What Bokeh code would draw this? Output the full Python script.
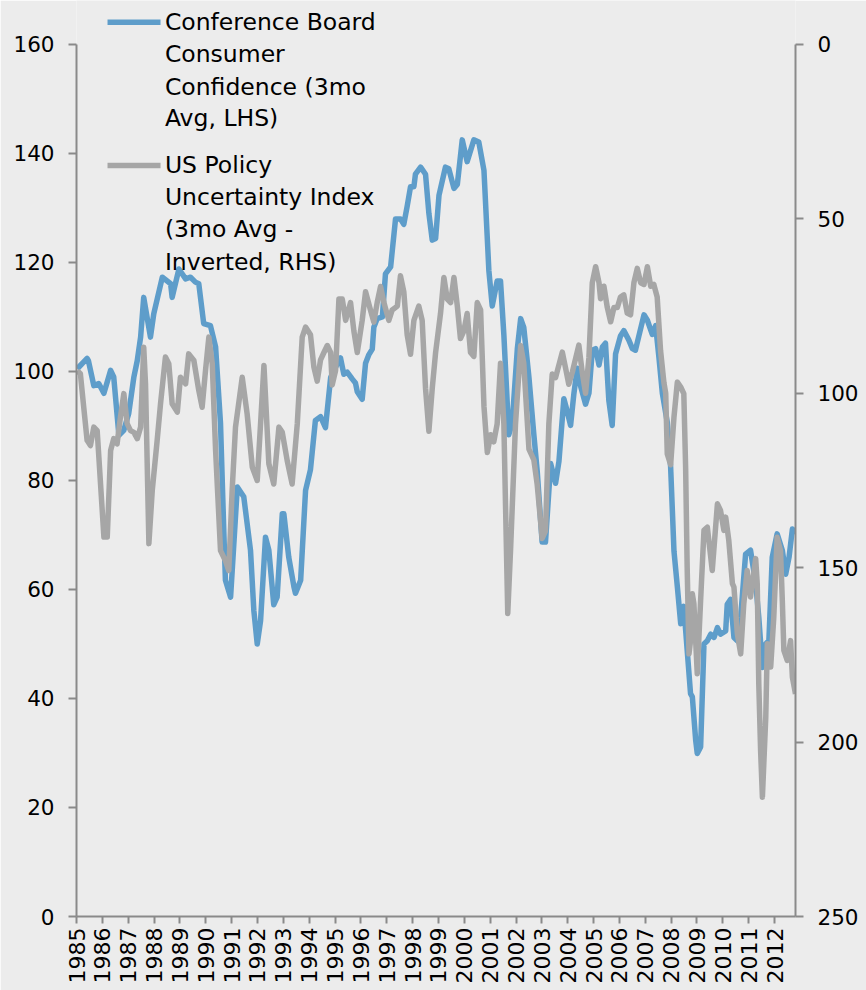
import numpy as np
from bokeh.plotting import figure
from bokeh.models import Range1d, LinearAxis, FixedTicker, Label
from bokeh.embed import file_html
from bokeh.resources import INLINE

# ---- data (decimal years) ----
years_cc = [1985.03, 1985.41, 1985.46, 1985.67, 1985.86, 1986.06, 1986.32, 1986.44, 1986.64, 1986.83,
            1987.02, 1987.22, 1987.35, 1987.48, 1987.60, 1987.86, 1987.99, 1988.32, 1988.64, 1988.70,
            1988.96, 1989.22, 1989.41, 1989.60, 1989.73, 1989.92, 1990.18, 1990.38, 1990.57, 1990.70,
            1990.76, 1990.96, 1991.22, 1991.47, 1991.73, 1991.86, 1991.99, 1992.12, 1992.31, 1992.44,
            1992.63, 1992.76, 1992.96, 1993.02, 1993.21, 1993.41, 1993.47, 1993.67, 1993.86, 1994.05,
            1994.24, 1994.44, 1994.63, 1994.83, 1995.02, 1995.21, 1995.34, 1995.47, 1995.67, 1995.79,
            1995.86, 1996.05, 1996.18, 1996.31, 1996.44, 1996.50, 1996.63, 1996.83, 1996.95, 1997.15,
            1997.34, 1997.53, 1997.66, 1997.79, 1997.92, 1998.05, 1998.11, 1998.31, 1998.50, 1998.63,
            1998.76, 1998.89, 1999.02, 1999.27, 1999.40, 1999.60, 1999.73, 1999.92, 2000.11, 2000.37,
            2000.56, 2000.76, 2000.95, 2001.08, 2001.27, 2001.40, 2001.53, 2001.72, 2001.85, 2002.05,
            2002.18, 2002.30, 2002.50, 2002.69, 2002.82, 2003.01, 2003.14, 2003.34, 2003.53, 2003.66,
            2003.85, 2003.98, 2004.11, 2004.24, 2004.37, 2004.50, 2004.69, 2004.82, 2004.95, 2005.08,
            2005.21, 2005.34, 2005.46, 2005.59, 2005.72, 2005.85, 2006.04, 2006.17, 2006.36, 2006.50,
            2006.62, 2006.75, 2006.95, 2007.08, 2007.27, 2007.40, 2007.53, 2007.66, 2007.85, 2007.98,
            2008.11, 2008.24, 2008.37, 2008.49, 2008.62, 2008.75, 2008.82, 2008.95, 2009.01, 2009.14,
            2009.27, 2009.40, 2009.53, 2009.66, 2009.79, 2009.91, 2010.11, 2010.17, 2010.30, 2010.43,
            2010.56, 2010.69, 2010.88, 2011.07, 2011.27, 2011.39, 2011.53, 2011.66, 2011.78, 2011.91,
            2012.10, 2012.30, 2012.43, 2012.56, 2012.69, 2012.81]
conf_board = [100.5, 102.4, 102.0, 97.4, 97.8, 96.0, 100.2, 99.0, 88.3, 89.2,
              92.3, 99.0, 102.0, 106.3, 113.6, 106.3, 110.6, 117.3, 116.1, 113.6,
              118.8, 117.0, 117.3, 116.4, 116.1, 108.8, 108.4, 104.5, 90.5, 70.3,
              61.7, 58.6, 78.8, 77.0, 67.2, 56.1, 50.0, 54.3, 69.6, 67.2,
              57.2, 58.6, 73.9, 73.9, 65.9, 60.5, 59.3, 61.7, 78.2, 82.0,
              91.0, 91.7, 89.7, 98.9, 100.8, 102.5, 99.5, 99.9, 98.6, 97.9,
              96.3, 94.9, 101.5, 103.1, 104.1, 108.1, 109.7, 110.0, 117.9, 119.2,
              128.0, 128.0, 127.0, 130.3, 133.9, 133.9, 136.2, 137.5, 136.2, 129.0,
              124.1, 124.4, 132.3, 137.5, 137.2, 133.6, 134.3, 142.5, 138.5, 142.5,
              142.1, 136.9, 118.5, 112.0, 116.6, 116.6, 106.7, 88.4, 90.4, 104.1,
              109.7, 108.1, 98.9, 88.4, 81.7, 68.7, 68.7, 83.1, 79.5, 83.5,
              95.0, 92.7, 90.1, 96.0, 100.6, 97.3, 94.0, 96.0, 103.9, 104.2,
              101.2, 104.5, 105.2, 94.7, 90.1, 103.2, 106.5, 107.5, 105.8, 104.2,
              103.9, 106.5, 110.4, 109.4, 106.8, 108.4, 102.5, 96.0, 90.7, 82.5,
              67.0, 60.5, 53.7, 56.9, 48.9, 40.9, 40.3, 32.3, 29.9, 31.1,
              50.0, 50.6, 51.8, 51.2, 53.0, 51.8, 52.4, 57.3, 58.2, 51.2,
              50.6, 54.9, 66.5, 67.2, 61.2, 54.9, 45.7, 50.0, 50.6, 65.9,
              70.2, 67.2, 62.8, 65.9, 71.1, 70.2]

years_pu = [1985.03, 1985.15, 1985.28, 1985.41, 1985.54, 1985.67, 1985.80, 1985.93, 1986.06, 1986.19,
            1986.32, 1986.44, 1986.57, 1986.70, 1986.83, 1986.96, 1987.09, 1987.22, 1987.35, 1987.48,
            1987.60, 1987.67, 1987.80, 1987.93, 1988.12, 1988.25, 1988.44, 1988.57, 1988.70, 1988.90,
            1989.02, 1989.22, 1989.34, 1989.54, 1989.73, 1989.86, 1989.99, 1990.12, 1990.25, 1990.38,
            1990.57, 1990.76, 1990.89, 1991.02, 1991.15, 1991.41, 1991.60, 1991.80, 1991.99, 1992.12,
            1992.25, 1992.44, 1992.63, 1992.83, 1992.96, 1993.15, 1993.34, 1993.54, 1993.73, 1993.86,
            1994.05, 1994.18, 1994.31, 1994.44, 1994.57, 1994.70, 1994.83, 1994.89, 1995.02, 1995.15,
            1995.28, 1995.41, 1995.60, 1995.73, 1995.86, 1996.05, 1996.18, 1996.37, 1996.50, 1996.63,
            1996.76, 1996.89, 1997.08, 1997.21, 1997.41, 1997.53, 1997.66, 1997.79, 1997.92, 1998.05,
            1998.24, 1998.37, 1998.50, 1998.63, 1998.76, 1998.89, 1999.08, 1999.21, 1999.34, 1999.47,
            1999.60, 1999.73, 1999.85, 1999.98, 2000.11, 2000.24, 2000.37, 2000.50, 2000.63, 2000.76,
            2000.89, 2001.02, 2001.14, 2001.27, 2001.40, 2001.53, 2001.68, 2001.79, 2001.98, 2002.18,
            2002.30, 2002.50, 2002.69, 2002.82, 2003.01, 2003.14, 2003.27, 2003.40, 2003.53, 2003.79,
            2003.92, 2004.04, 2004.18, 2004.43, 2004.56, 2004.69, 2004.82, 2004.95, 2005.08, 2005.21,
            2005.27, 2005.40, 2005.53, 2005.66, 2005.79, 2005.92, 2006.04, 2006.17, 2006.30, 2006.43,
            2006.56, 2006.69, 2006.82, 2006.95, 2007.08, 2007.21, 2007.33, 2007.46, 2007.59, 2007.72,
            2007.79, 2007.85, 2007.98, 2008.11, 2008.24, 2008.37, 2008.49, 2008.56, 2008.62, 2008.69,
            2008.75, 2008.82, 2008.88, 2009.01, 2009.14, 2009.27, 2009.40, 2009.59, 2009.79, 2009.91,
            2010.04, 2010.11, 2010.23, 2010.37, 2010.43, 2010.56, 2010.69, 2010.81, 2010.94, 2011.07,
            2011.27, 2011.33, 2011.39, 2011.46, 2011.53, 2011.66, 2011.72, 2011.85, 2011.97, 2012.10,
            2012.23, 2012.30, 2012.36, 2012.49, 2012.62, 2012.69, 2012.81]
policy_unc = [93.5, 94.4, 104.0, 113.5, 115.0, 109.7, 110.7, 126.0, 141.2, 141.2,
              116.4, 113.0, 114.5, 106.8, 100.1, 108.7, 110.7, 111.2, 113.0, 109.7,
              86.8, 97.3, 143.1, 127.9, 113.5, 103.0, 89.6, 91.5, 103.0, 105.4,
              95.4, 97.3, 88.7, 90.6, 99.2, 104.0, 93.5, 83.9, 91.5, 116.4,
              145.1, 148.0, 150.8, 127.9, 109.7, 95.4, 105.9, 121.2, 125.0, 108.7,
              92.0, 120.2, 126.0, 109.7, 111.2, 119.3, 126.0, 108.7, 83.9, 81.0,
              83.2, 92.4, 96.5, 90.4, 88.3, 86.3, 88.3, 97.6, 93.5, 73.0,
              73.0, 79.1, 74.0, 82.2, 88.3, 79.1, 70.9, 76.1, 79.6, 74.0,
              69.4, 74.0, 79.1, 76.1, 75.0, 66.3, 70.9, 83.2, 88.8, 79.1,
              75.0, 79.1, 98.6, 110.9, 98.6, 88.3, 77.1, 66.8, 73.0, 74.0,
              66.8, 75.0, 84.3, 82.2, 77.1, 88.3, 89.4, 74.0, 76.1, 103.7,
              117.0, 111.9, 113.9, 108.8, 91.4, 108.8, 163.1, 144.7, 108.8, 86.3,
              91.4, 116.0, 119.1, 126.2, 141.6, 139.5, 108.8, 94.5, 95.5, 88.2,
              92.9, 97.4, 93.9, 86.2, 93.9, 100.0, 89.8, 68.3, 63.7, 68.3,
              72.9, 69.3, 75.4, 79.5, 75.4, 75.4, 72.4, 71.8, 77.0, 77.5,
              68.3, 64.2, 68.3, 68.8, 63.7, 69.3, 68.8, 72.4, 87.7, 96.9,
              100.0, 117.4, 120.5, 106.8, 96.8, 98.2, 100.1, 121.2, 149.9, 174.7,
              170.9, 157.5, 160.3, 180.4, 159.4, 139.3, 138.4, 150.8, 131.7, 133.6,
              139.3, 135.5, 142.2, 154.6, 155.6, 168.9, 174.7, 160.3, 150.8, 158.4,
              147.4, 154.6, 183.3, 202.4, 215.8, 192.9, 171.8, 178.5, 164.2, 141.3,
              145.1, 159.4, 173.7, 176.6, 170.9, 181.4, 186.2]

lhs_ticks = [0, 20, 40, 60, 80, 100, 120, 140, 160]
rhs_ticks = [0, 50, 100, 150, 200, 250]
year_ticks = list(range(1985, 2013))
legend_cc = ["Conference Board", "Consumer", "Confidence (3mo", "Avg, LHS)"]
legend_pu = ["US Policy", "Uncertainty Index", "(3mo Avg -", "Inverted, RHS)"]

# ---- styling / layout ----
BLUE = "#5E9DCA"
GRAY = "#A6A6A6"
BG = "#ECECEC"
AXC = "#8A8A8A"
FONT = "DejaVu Sans"
W, H = 866, 990
LHS_TOP = 168.07
X_END = 2012.81

p = figure(width=W, height=H, output_backend="svg", toolbar_location=None,
           x_range=Range1d(1985, X_END), y_range=Range1d(0, LHS_TOP),
           min_border_left=76, min_border_right=71, min_border_top=0, min_border_bottom=74)
p.extra_y_ranges = {"rhs": Range1d(250, 250 * (160 - LHS_TOP) / 160)}
p.background_fill_color = BG
p.border_fill_color = BG
p.outline_line_color = None
p.grid.visible = False

# left axis
ya = p.yaxis[0]
ya.ticker = FixedTicker(ticks=lhs_ticks)
ya.bounds = (0, 160)

# right axis
ra = LinearAxis(y_range_name="rhs", ticker=FixedTicker(ticks=rhs_ticks), bounds=(0, 250))
p.add_layout(ra, "right")

# bottom axis
xa = p.xaxis[0]
xa.ticker = FixedTicker(ticks=year_ticks)
xa.major_label_overrides = {y: str(y) for y in year_ticks}
xa.major_label_orientation = np.pi / 2

for ax in [ya, ra, xa]:
    ax.axis_line_color = AXC
    ax.axis_line_width = 2
    ax.major_tick_line_color = AXC
    ax.major_tick_line_width = 2
    ax.major_tick_in = 0
    ax.major_tick_out = 8
    ax.minor_tick_line_color = None
    ax.major_label_text_font = FONT
    ax.major_label_text_font_size = "21.5px"
    ax.major_label_text_color = "#000000"
ya.major_label_standoff = 14
ra.major_label_standoff = 14
xa.major_tick_out = 7
xa.major_label_standoff = 4
xa.major_label_text_font_size = "22px"

# data lines
p.line(years_cc, conf_board, line_color=BLUE, line_width=5.5, line_join="round")
p.line(years_pu, policy_unc, y_range_name="rhs", line_color=GRAY, line_width=5.5, line_join="round")

# legend (swatches + multi-line labels)
p.segment(x0=[1986.20], y0=[164.1], x1=[1988.25], y1=[164.1], line_color=BLUE, line_width=5.5)
p.segment(x0=[1986.20], y0=[137.8], x1=[1988.25], y1=[137.8], line_color=GRAY, line_width=5.5)
cc_base = [164.04, 158.17, 152.29, 146.42]
pu_base = [137.80, 131.93, 126.06, 120.18]
for txt, yb in list(zip(legend_cc, cc_base)) + list(zip(legend_pu, pu_base)):
    p.add_layout(Label(x=1988.42, y=yb, text=txt, text_font=FONT, text_font_size="23.5px",
                       text_color="#000000", text_align="left", text_baseline="alphabetic"))

open("out.html", "w").write(file_html(p, INLINE))
